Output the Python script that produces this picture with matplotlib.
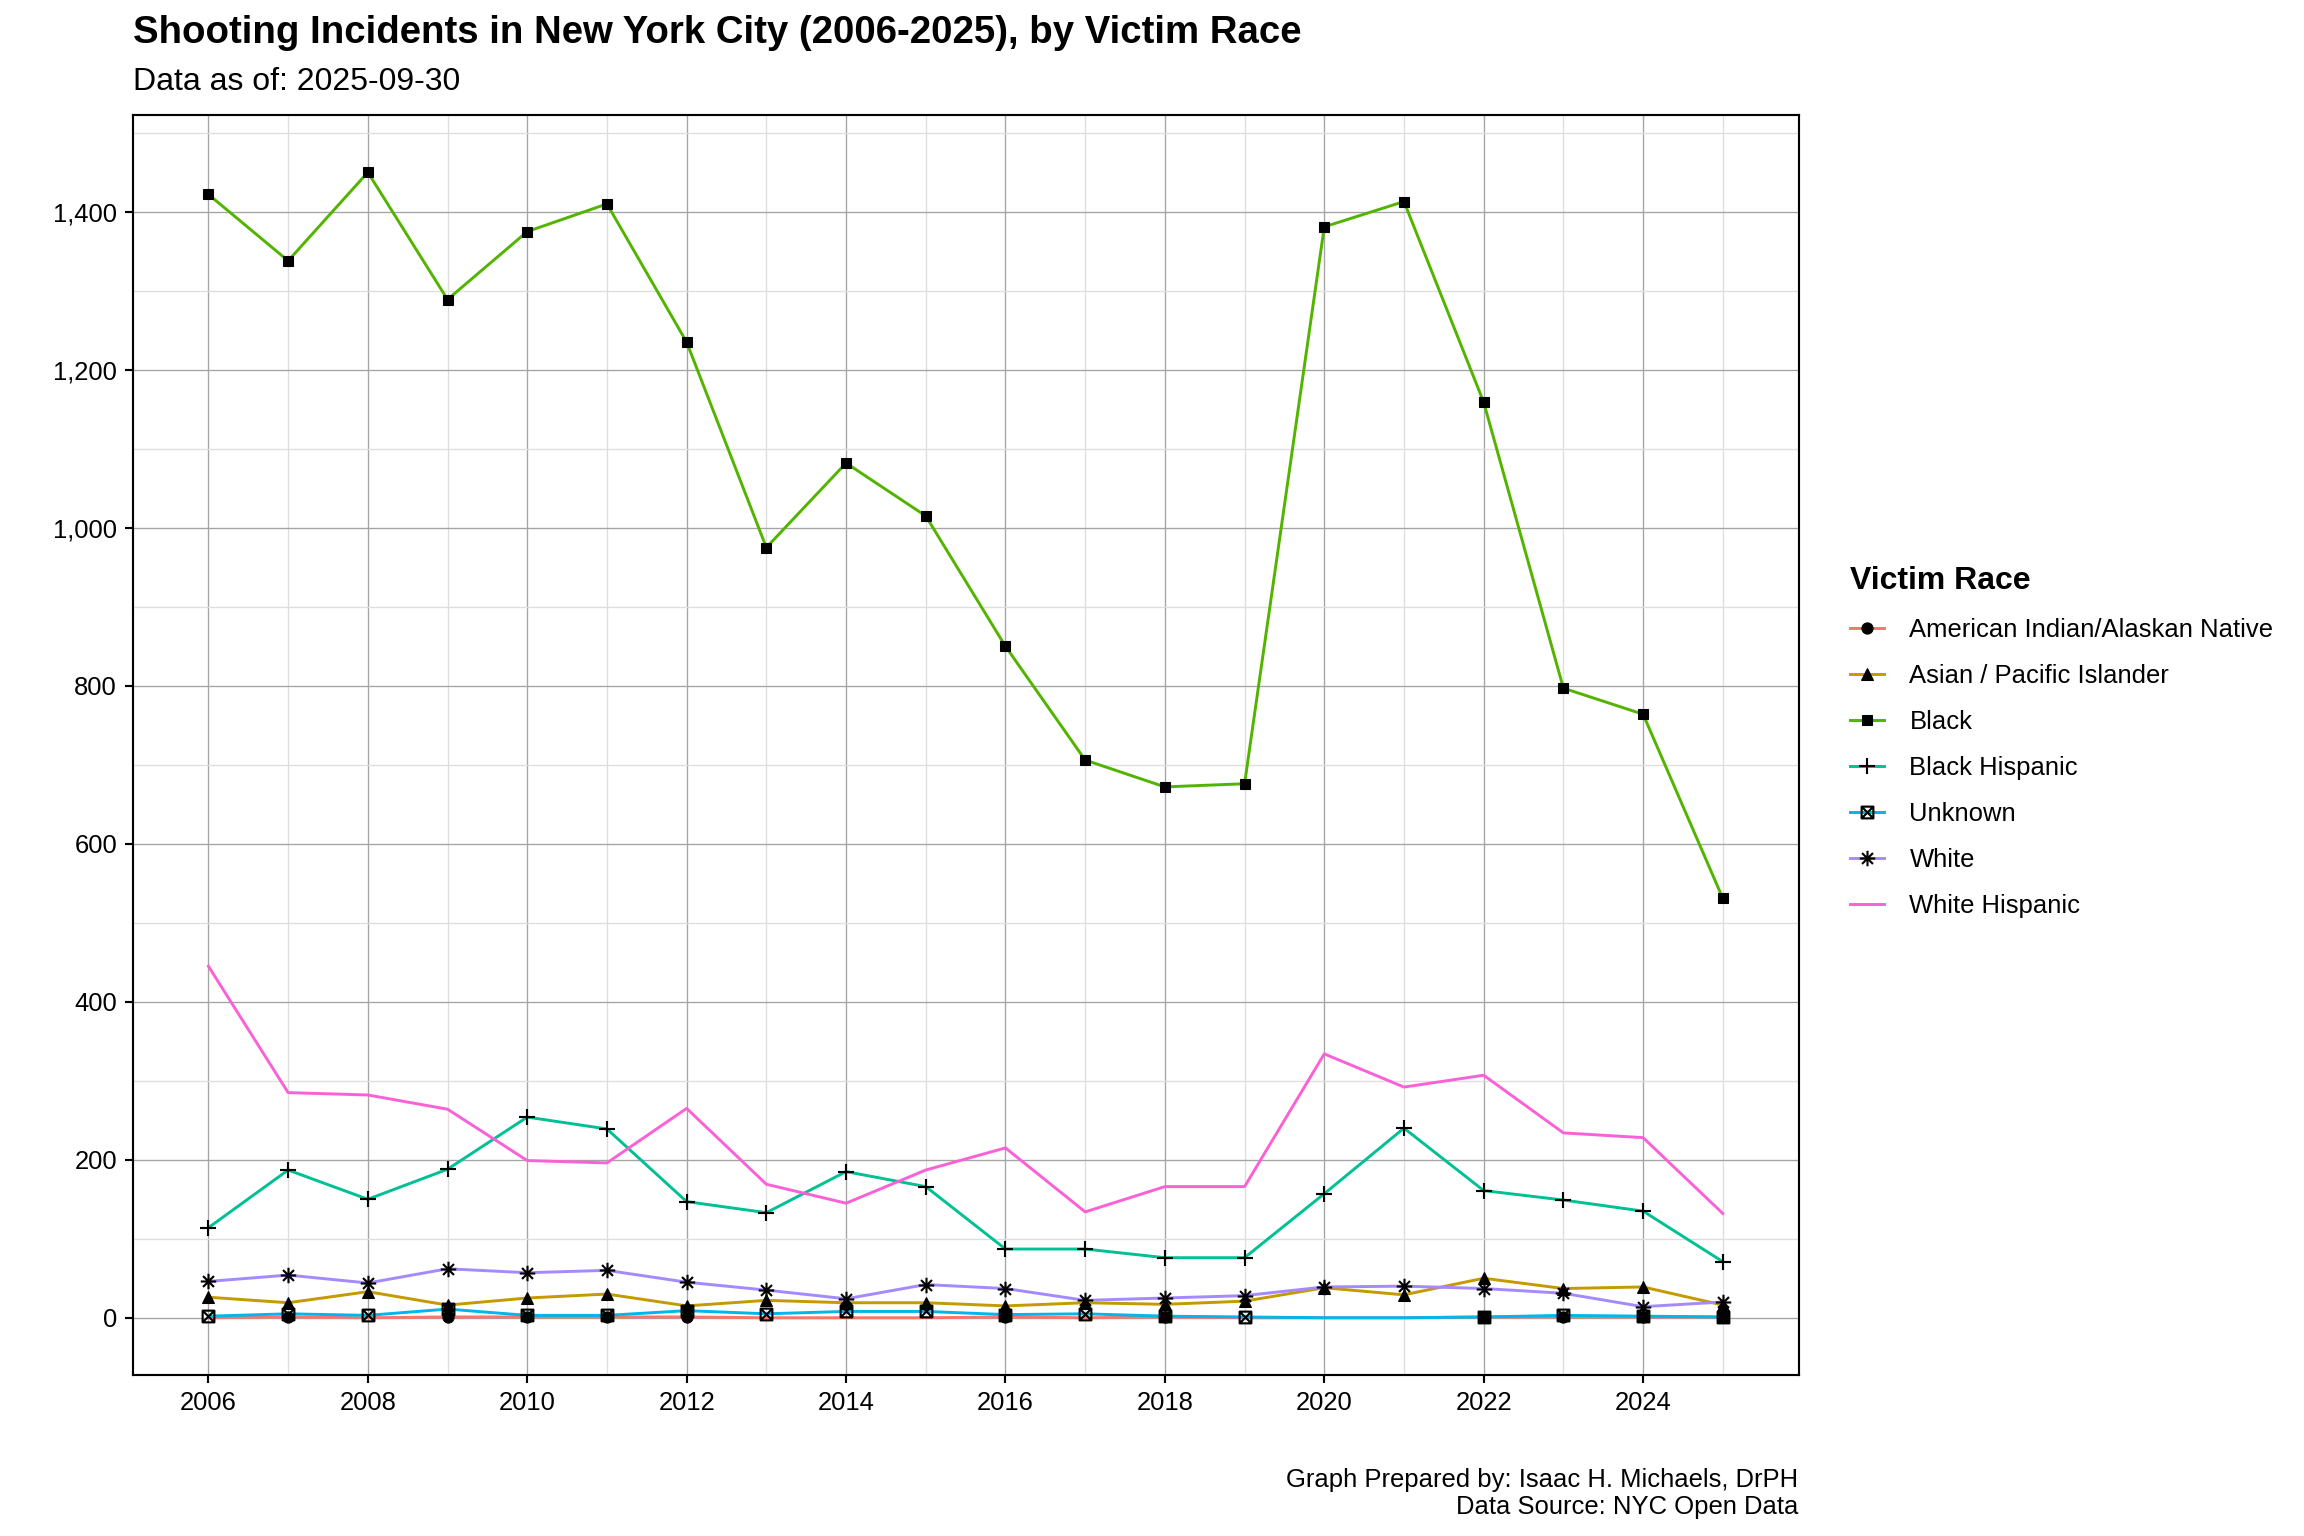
import numpy as np
import matplotlib
matplotlib.use("Agg")
import matplotlib.pyplot as plt
from matplotlib.path import Path
from matplotlib.lines import Line2D
from matplotlib.ticker import FuncFormatter, MultipleLocator

# shooting victims per year, by race
years = list(range(2006, 2026))
american_indian = [0, 1, 0, 1, 1, 1, 1, 0, 0, 0, 1, 0, 1, 0, 0, 0, 1, 1, 1, 1]
asian_pacific = [26, 19, 33, 16, 25, 30, 15, 22, 19, 19, 15, 19, 17, 21, 38, 29, 50, 37, 39, 16]
black = [1422, 1338, 1450, 1289, 1375, 1410, 1235, 975, 1082, 1015,
         850, 706, 672, 676, 1381, 1413, 1159, 797, 764, 531]
black_hispanic = [114, 187, 150, 188, 254, 239, 147, 133, 185, 166,
                  87, 87, 76, 76, 157, 240, 161, 149, 135, 71]
unknown = [2, 5, 3, 11, 3, 3, 9, 5, 8, 8, 4, 5, 2, 1, 0, 0, 1, 3, 2, 1]
white = [46, 54, 44, 62, 57, 60, 45, 35, 24, 42, 37, 22, 25, 28, 39, 40, 37, 31, 14, 20]
white_hispanic = [445, 285, 282, 264, 199, 196, 265, 169, 145, 187,
                  215, 134, 166, 166, 334, 292, 307, 234, 228, 132]

labels = ["American Indian/Alaskan Native", "Asian / Pacific Islander", "Black",
          "Black Hispanic", "Unknown", "White", "White Hispanic"]

plt.rcParams["font.family"] = ["Liberation Sans", "DejaVu Sans"]

# custom markers like ggplot shapes 7 (square with x) and 8 (asterisk)
d = np.sqrt(0.5)
asterisk = Path([(-1, 0), (1, 0), (0, -1), (0, 1), (-d, -d), (d, d), (-d, d), (d, -d)],
                [Path.MOVETO, Path.LINETO] * 4)
square_x = Path([(-1, -1), (1, -1), (1, 1), (-1, 1), (-1, -1),
                 (-1, -1), (1, 1), (-1, 1), (1, -1)],
                [Path.MOVETO, Path.LINETO, Path.LINETO, Path.LINETO, Path.CLOSEPOLY,
                 Path.MOVETO, Path.LINETO, Path.MOVETO, Path.LINETO])

colors = ["#F8766D", "#C49A00", "#53B400", "#00C094", "#00B6EB", "#A58AFF", "#FB61D7"]
styles = [
    dict(marker="o", ms=4.2, mew=0.4, mfc="black"),
    dict(marker="^", ms=4.8, mew=0.4, mfc="black"),
    dict(marker="s", ms=4.1, mew=0.4, mfc="black"),
    dict(marker="+", ms=6.2, mew=0.8),
    dict(marker=square_x, ms=4.4, mew=0.8, mfc="none"),
    dict(marker=asterisk, ms=5.8, mew=0.8),
    None,
]
values = [american_indian, asian_pacific, black, black_hispanic, unknown, white, white_hispanic]

fig = plt.figure(figsize=(12, 8), dpi=192)
ax = fig.add_axes([0.0576, 0.1048, 0.7230, 0.8203])

lw = 1.1
for i, vals in enumerate(values):
    ax.plot(years, vals, color=colors[i], lw=lw, zorder=3 + i * 0.01)

yrs = np.array(years)
for i, vals in enumerate(values):
    if styles[i] is None:
        continue
    v = np.array(vals, dtype=float)
    keep = v > 0
    ax.plot(yrs[keep], v[keep], ls="none", color="black", mec="black",
            zorder=4 + i * 0.01, **styles[i])

ax.set_xlim(2005.05, 2025.95)
ax.set_ylim(-72.5, 1522.5)
ax.xaxis.set_major_locator(MultipleLocator(2))
ax.xaxis.set_minor_locator(MultipleLocator(1))
ax.yaxis.set_major_locator(MultipleLocator(200))
ax.yaxis.set_minor_locator(MultipleLocator(100))
ax.yaxis.set_major_formatter(FuncFormatter(lambda x, p: f"{x:,.0f}"))

ax.set_axisbelow(True)
ax.grid(which="minor", color="#dedede", lw=0.5)
ax.grid(which="major", color="#a4a4a4", lw=0.5)
ax.tick_params(which="major", length=2.85, width=0.8, color="black",
               labelsize=9.6, pad=3, labelcolor="black")
ax.tick_params(which="minor", length=0)
for s in ax.spines.values():
    s.set_linewidth(0.8)
    s.set_color("black")

# legend
handles = []
for i in range(len(labels)):
    if styles[i] is None:
        handles.append(Line2D([], [], color=colors[i], lw=lw))
    else:
        handles.append(Line2D([], [], color=colors[i], lw=lw, mec="black", **styles[i]))
for h, st in zip(handles, styles):
    if st is not None and st.get("mfc") != "none":
        h.set_markerfacecolor("black")
fig.legend(handles, labels, loc="upper left", bbox_to_anchor=(0.8031, 0.6313),
           frameon=False, title="Victim Race",
           title_fontproperties={"weight": "bold", "size": 12},
           fontsize=9.6, handlelength=1.33, handletextpad=0.98, labelspacing=0.86,
           borderpad=0, borderaxespad=0, alignment="left")

fig.text(0.0576, 0.9718, "Shooting Incidents in New York City (2006-2025), by Victim Race",
         fontsize=14.4, weight="bold", ha="left", va="baseline")
fig.text(0.0576, 0.9414, "Data as of: 2025-09-30", fontsize=12, ha="left", va="baseline")
fig.text(0.7806, 0.0321, "Graph Prepared by: Isaac H. Michaels, DrPH",
         fontsize=9.6, ha="right", va="baseline")
fig.text(0.7806, 0.0143, "Data Source: NYC Open Data",
         fontsize=9.6, ha="right", va="baseline")

fig.savefig("out.png", dpi=192)
